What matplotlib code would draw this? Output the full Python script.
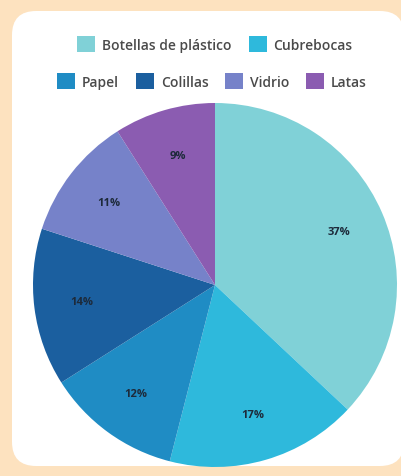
import matplotlib
matplotlib.use("Agg")
import matplotlib.pyplot as plt
from matplotlib.patches import FancyBboxPatch, Patch

# datos
categorias = ["Botellas de plástico", "Cubrebocas", "Papel", "Colillas", "Vidrio", "Latas"]
porcentajes = [37, 17, 12, 14, 11, 9]
colores = ["#80D1D7", "#2EB9DC", "#1F8CC4", "#1B5F9F", "#7682C9", "#8B5CB1"]

plt.rcParams['font.family'] = ['Open Sans', 'DejaVu Sans']

W, H = 402, 477
fig = plt.figure(figsize=(W / 100, H / 100), dpi=100)
fig.patch.set_facecolor("#FDE2BF")

# panel blanco redondeado
panel = FancyBboxPatch((12 / W, 10 / H), (W - 10) / W, (H - 22) / H,
                       boxstyle="round,pad=0,rounding_size=0.06",
                       transform=fig.transFigure, facecolor="white",
                       edgecolor="none", mutation_aspect=W / H, zorder=-5)
fig.patches.append(panel)

# pastel
cx, cy, r = 215, 286, 182
ax = fig.add_axes([(cx - r) / W, (H - cy - r) / H, 2 * r / W, 2 * r / H])
ax.set_zorder(2)
wedges, texts, autotexts = ax.pie(porcentajes, colors=colores, startangle=90,
                                  counterclock=False, autopct='%d%%',
                                  pctdistance=0.74,
                                  wedgeprops=dict(linewidth=0))
for t in autotexts:
    t.set_fontsize(8)
    t.set_fontweight('bold')
    t.set_color('#1d2a3a')
ax.set_xlim(-1, 1)
ax.set_ylim(-1, 1)
ax.axis('off')

# leyenda en dos filas
handles = [Patch(facecolor=c, edgecolor='none') for c in colores]
leg_kw = dict(frameon=False, fontsize=10, handlelength=1.3, handleheight=1.3,
              handletextpad=0.5, columnspacing=1.2, labelcolor='#4a4a4a',
              loc='center')
leg1 = fig.legend(handles[:2], categorias[:2], ncol=2,
                  bbox_to_anchor=(215 / W, 1 - 45 / H), **leg_kw)
leg2 = fig.legend(handles[2:], categorias[2:], ncol=4,
                  bbox_to_anchor=(212 / W, 1 - 82 / H), **leg_kw)
for leg in (leg1, leg2):
    for t in leg.get_texts():
        t.set_fontweight('semibold')

fig.savefig("out.png", dpi=100, facecolor=fig.get_facecolor())
